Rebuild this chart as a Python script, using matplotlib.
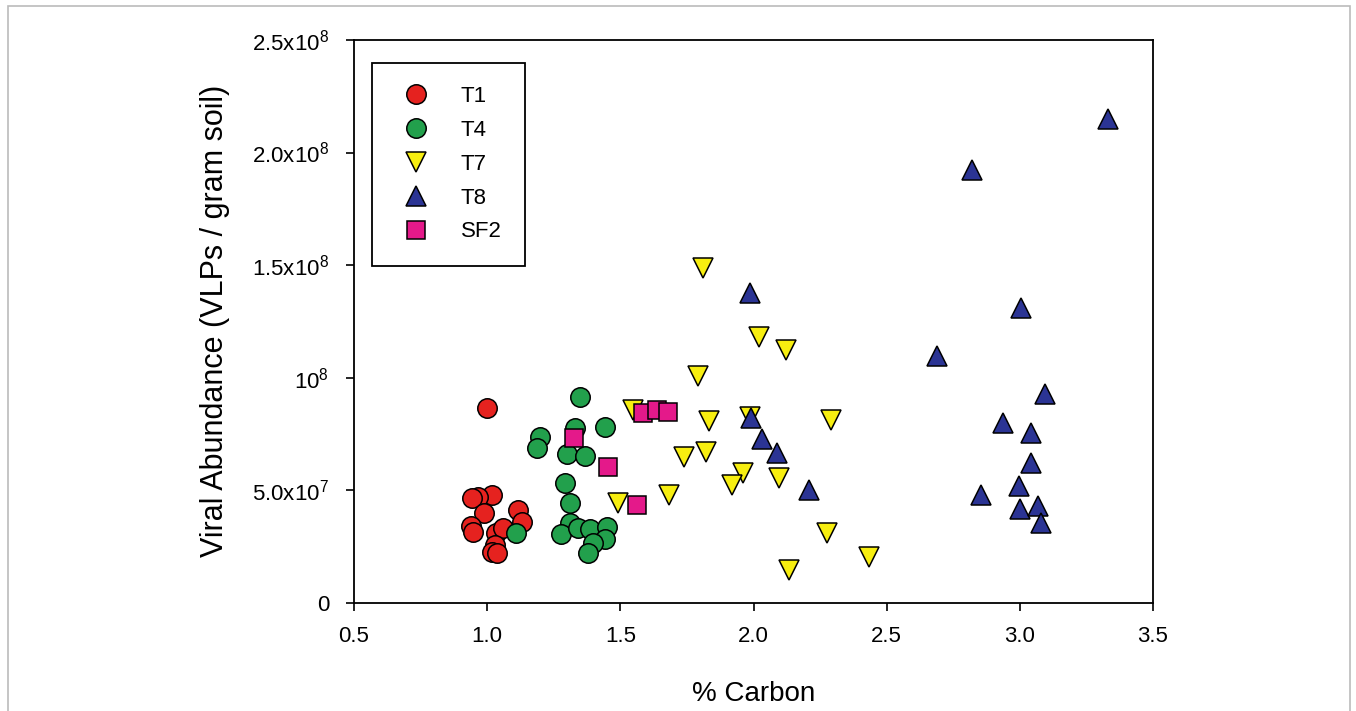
import matplotlib
matplotlib.use("Agg")
import matplotlib.pyplot as plt
from matplotlib.patches import Rectangle

plt.rcParams['font.family'] = ['Liberation Sans', 'DejaVu Sans']

# % carbon vs viral abundance
t1_x = [1.00, 1.017, 0.965, 0.942, 0.988, 0.938, 0.947, 1.115, 1.130, 1.033, 1.06, 1.029, 1.017, 1.036]
t1_y = [8.65e7, 4.79e7, 4.68e7, 4.64e7, 4.0e7, 3.41e7, 3.16e7, 4.12e7, 3.6e7, 3.08e7, 3.32e7, 2.56e7, 2.27e7, 2.2e7]

t4_x = [1.349, 1.198, 1.186, 1.33, 1.443, 1.30, 1.367, 1.292, 1.311, 1.311, 1.276, 1.342, 1.386, 1.449, 1.443, 1.399, 1.38, 1.108]
t4_y = [9.16e7, 7.38e7, 6.86e7, 7.75e7, 7.82e7, 6.61e7, 6.52e7, 5.33e7, 4.42e7, 3.56e7, 3.05e7, 3.31e7, 3.26e7, 3.38e7, 2.82e7, 2.67e7, 2.22e7, 3.11e7]

t7_x = [1.809, 2.022, 2.121, 1.793, 1.549, 1.833, 1.987, 2.29, 1.739, 1.82, 1.962, 1.92, 2.097, 1.683, 1.49, 2.277, 2.434, 2.133]
t7_y = [1.486e8, 1.182e8, 1.123e8, 1.0075e8, 8.56e7, 8.09e7, 8.27e7, 8.12e7, 6.49e7, 6.71e7, 5.75e7, 5.23e7, 5.56e7, 4.79e7, 4.44e7, 3.08e7, 2.02e7, 1.45e7]

t8_x = [3.331, 2.821, 3.005, 2.689, 3.096, 2.938, 3.041, 3.041, 2.997, 2.853, 3.001, 3.067, 3.079, 1.985, 1.99, 2.031, 2.09, 2.21]
t8_y = [2.15e8, 1.923e8, 1.31e8, 1.096e8, 9.28e7, 8.0e7, 7.56e7, 6.2e7, 5.19e7, 4.79e7, 4.16e7, 4.3e7, 3.53e7, 1.375e8, 8.2e7, 7.28e7, 6.67e7, 5.01e7]

sf2_x = [1.584, 1.636, 1.68, 1.326, 1.455, 1.562]
sf2_y = [8.42e7, 8.56e7, 8.46e7, 7.31e7, 6.02e7, 4.34e7]

x_ticks = [0.5, 1.0, 1.5, 2.0, 2.5, 3.0, 3.5]
y_ticks = [0, 5e7, 1e8, 1.5e8, 2e8, 2.5e8]
y_tick_labels = ["0", r"$\mathregular{5.0x10^{7}}$", r"$\mathregular{10^{8}}$",
                 r"$\mathregular{1.5x10^{8}}$", r"$\mathregular{2.0x10^{8}}$",
                 r"$\mathregular{2.5x10^{8}}$"]

fig = plt.figure(figsize=(13.56, 7.11), dpi=100)
ax = fig.add_axes([354/1356, 1 - 602.7/711, (1153-354)/1356, (602.7-40)/711])

series = [
    ("T1", t1_x, t1_y, "o", "#E5221F", 14),
    ("T4", t4_x, t4_y, "o", "#22A04C", 14),
    ("T7", t7_x, t7_y, "v", "#F7EE10", 14),
    ("T8", t8_x, t8_y, "^", "#2B3494", 14),
    ("SF2", sf2_x, sf2_y, "s", "#E4198A", 12.5),
]
for name, xs, ys, mk, col, ms in series:
    ax.plot(xs, ys, linestyle="none", marker=mk, markersize=ms,
            markerfacecolor=col, markeredgecolor="black", markeredgewidth=1.1,
            label=name)

ax.set_xlim(0.5, 3.5)
ax.set_ylim(0, 2.5e8)
ax.set_xticks(x_ticks)
ax.set_xticklabels(["%.1f" % v for v in x_ticks], fontsize=16)
ax.set_yticks(y_ticks)
ax.set_yticklabels(y_tick_labels, fontsize=16)
ax.tick_params(direction="out", length=6, width=1.2, colors="black")
ax.tick_params(axis="x", pad=11)
ax.tick_params(axis="y", pad=12)
for sp in ax.spines.values():
    sp.set_linewidth(1.3)

ax.set_xlabel("% Carbon", fontsize=20, labelpad=24)
ax.set_ylabel("Viral Abundance (VLPs / gram soil)", fontsize=22, labelpad=16)

leg = ax.legend(loc="upper left", bbox_to_anchor=(0.0225, 0.96), borderaxespad=0,
                fontsize=16, numpoints=1, fancybox=False, framealpha=1,
                edgecolor="black", borderpad=1.05, handlelength=1.86,
                handletextpad=1.09, labelspacing=0.58)
leg.get_frame().set_linewidth(1.3)

fig.patches.append(Rectangle((8/1356, -0.05), 1342/1356, 1.05 - 6/711,
                             transform=fig.transFigure, fill=False,
                             edgecolor="#BBBBBB", linewidth=1.2))

fig.savefig("out.png", dpi=100)
